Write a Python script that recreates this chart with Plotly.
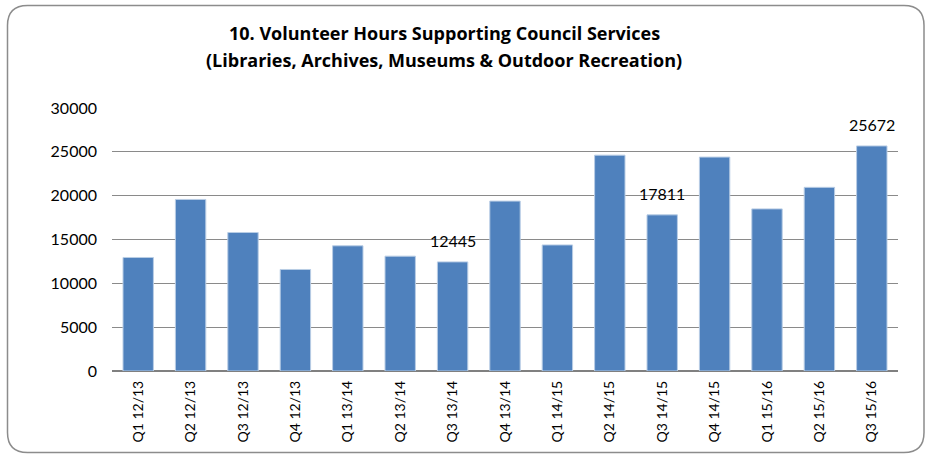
import plotly.graph_objects as go

# Quarterly volunteer hours
quarters = ["Q1 12/13", "Q2 12/13", "Q3 12/13", "Q4 12/13",
            "Q1 13/14", "Q2 13/14", "Q3 13/14", "Q4 13/14",
            "Q1 14/15", "Q2 14/15", "Q3 14/15", "Q4 14/15",
            "Q1 15/16", "Q2 15/16", "Q3 15/16"]
hours = [12950, 19570, 15800, 11580,
         14280, 13100, 12445, 19380,
         14380, 24620, 17811, 24400,
         18490, 20950, 25672]
labelled = ["Q3 13/14", "Q3 14/15", "Q3 15/16"]

title_lines = ["10. Volunteer Hours Supporting Council Services",
               "(Libraries, Archives, Museums & Outdoor Recreation)"]

W, H = 926, 454
ML, MR, MT, MB = 112, 28, 108, 83
PW, PH = W - ML - MR, H - MT - MB


def px_x(px):
    return (px - ML) / PW


def px_y(py):
    return (H - MB - py) / PH


FONT = "Lato"
TITLE_FONT = "Open Sans"

fig = go.Figure()
fig.add_trace(go.Bar(
    x=quarters, y=hours,
    marker=dict(color="#4F81BD", line=dict(color="#B9CDE5", width=1)),
    hoverinfo="x+y",
))

# value labels above selected bars
for q, v in zip(quarters, hours):
    if q in labelled:
        fig.add_annotation(x=q, y=v, text=str(v), showarrow=False,
                           yanchor="bottom", yshift=10,
                           font=dict(family=FONT, size=16, color="#000"))

# two-line title
for line, cy in zip(title_lines, [33, 60]):
    fig.add_annotation(xref="paper", yref="paper", x=px_x(444), y=px_y(cy),
                       text=f"<b>{line}</b>", showarrow=False,
                       xanchor="center", yanchor="middle",
                       font=dict(family=TITLE_FONT, size=18, color="#000"))

# rounded chart border
x0, x1 = px_x(7.5), px_x(924)
y0, y1 = px_y(452.5), px_y(5.5)
rx, ry = 20 / PW, 20 / PH
path = (f"M {x0 + rx},{y1} L {x1 - rx},{y1} Q {x1},{y1} {x1},{y1 - ry} "
        f"L {x1},{y0 + ry} Q {x1},{y0} {x1 - rx},{y0} "
        f"L {x0 + rx},{y0} Q {x0},{y0} {x0},{y0 + ry} "
        f"L {x0},{y1 - ry} Q {x0},{y1} {x0 + rx},{y1} Z")
fig.add_shape(type="path", xref="paper", yref="paper", path=path,
              line=dict(color="#8C8C8C", width=1.5), layer="below")

fig.update_layout(
    width=W, height=H,
    margin=dict(l=ML, r=MR, t=MT, b=MB),
    paper_bgcolor="white", plot_bgcolor="white",
    showlegend=False, bargap=0.42,
    font=dict(family=FONT, color="#000"),
)
fig.update_xaxes(
    type="category", tickangle=-90, automargin=False,
    tickfont=dict(family=FONT, size=14, color="#000"),
    showline=False, ticks="", ticklabelstandoff=6,
)
fig.update_yaxes(
    range=[0, 30000], dtick=5000, tickformat="d", automargin=False,
    showgrid=True, gridcolor="#8A8A8A", gridwidth=1,
    zeroline=True, zerolinecolor="#808080", zerolinewidth=2,
    tickfont=dict(family=FONT, size=16, color="#000"),
    ticks="", ticklabelstandoff=14, showline=False,
)

fig.write_html("out.html")
